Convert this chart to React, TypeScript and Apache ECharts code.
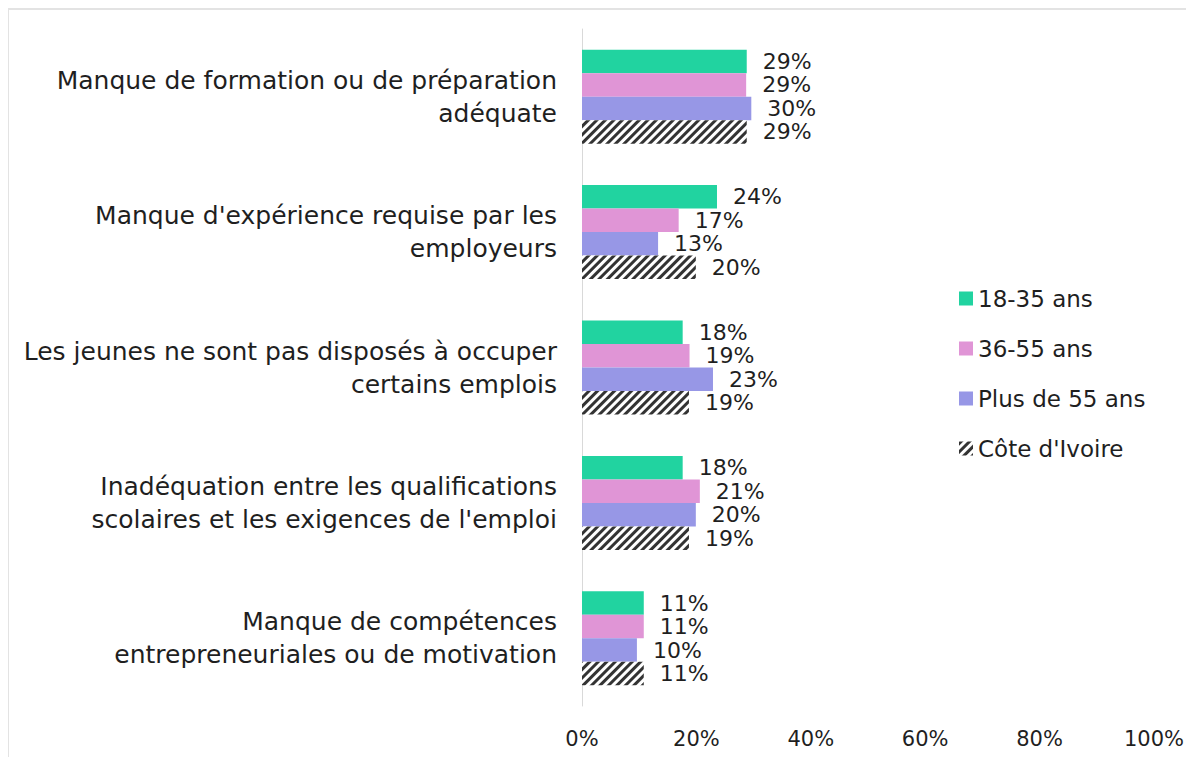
import React, { useEffect, useRef } from "react";
import * as echarts from "echarts";

const categories = [
  "Manque de formation ou de préparation\nadéquate",
  "Manque d'expérience requise par les\nemployeurs",
  "Les jeunes ne sont pas disposés à occuper\ncertains emplois",
  "Inadéquation entre les qualifications\nscolaires et les exigences de l'emploi",
  "Manque de compétences\nentrepreneuriales ou de motivation",
];
const seriesNames = ["18-35 ans", "36-55 ans", "Plus de 55 ans", "Côte d'Ivoire"];
const s1835 = [28.8, 23.6, 17.6, 17.6, 10.8];
const s3655 = [28.7, 16.9, 18.8, 20.6, 10.8];
const s55plus = [29.6, 13.3, 22.9, 19.9, 9.6];
const sCI = [28.8, 19.9, 18.7, 18.7, 10.8];
const xTicks = [0, 20, 40, 60, 80, 100];

const FONT = "DejaVu Sans";
const TEXT = "#1f1f1f";

export default function App() {
  const ref = useRef<HTMLDivElement>(null);
  useEffect(() => {
    if (!ref.current) return;
    const chart = echarts.init(ref.current, undefined, { renderer: "svg" });
    const colors = ["#21D3A0", "#E095D6", "#9797E6", "#ffffff"];
    const data = [s1835, s3655, s55plus, sCI];
    chart.setOption({
      animation: false,
      grid: { left: 573, right: 39, top: 19, bottom: 51, containLabel: false },
      legend: {
        orient: "vertical",
        left: 945,
        top: 272,
        itemWidth: 14,
        itemHeight: 14,
        itemGap: 27,
        icon: "rect",
        textStyle: { fontFamily: FONT, fontSize: 23, color: TEXT, padding: [0, 0, 0, 0] },
        data: seriesNames,
      },
      xAxis: {
        type: "value",
        min: 0,
        max: 100,
        interval: 20,
        axisLine: { show: false },
        axisTick: { show: false },
        splitLine: { show: false },
        axisLabel: {
          fontFamily: FONT,
          fontSize: 21,
          color: TEXT,
          margin: 22,
          formatter: (v: number) => (xTicks.includes(v) ? v + "%" : ""),
        },
      },
      yAxis: {
        type: "category",
        inverse: true,
        data: categories,
        axisLine: { show: true, lineStyle: { color: "#d9d9d9", width: 1 } },
        axisTick: { show: false },
        axisLabel: {
          fontFamily: FONT,
          fontSize: 25,
          color: TEXT,
          margin: 25,
          lineHeight: 33,
          align: "right",
        },
      },
      series: data.map((d, i) => ({
        name: seriesNames[i],
        type: "bar",
        data: d,
        barWidth: 23.5,
        barGap: "0%",
        itemStyle:
          i === 3
            ? {
                color: "#ffffff",
                decal: {
                  symbol: "rect",
                  symbolSize: 1,
                  color: "#333333",
                  backgroundColor: "#ffffff",
                  dashArrayX: [[1, 0]],
                  dashArrayY: [3, 3],
                  rotation: -Math.PI / 4,
                },
              }
            : { color: colors[i] },
        label: {
          show: true,
          position: "right",
          distance: 16,
          fontFamily: FONT,
          fontSize: 22,
          color: TEXT,
          formatter: (p: any) => Math.round(p.value) + "%",
        },
      })),
    });
    return () => chart.dispose();
  }, []);
  return (
    <div
      style={{
        width: 1186,
        height: 749,
        boxSizing: "border-box",
        borderTop: "2px solid #e3e3e3",
        borderLeft: "2px solid #e3e3e3",
        marginLeft: -1,
      }}
    >
      <div ref={ref} style={{ width: 1184, height: 747 }} />
    </div>
  );
}
